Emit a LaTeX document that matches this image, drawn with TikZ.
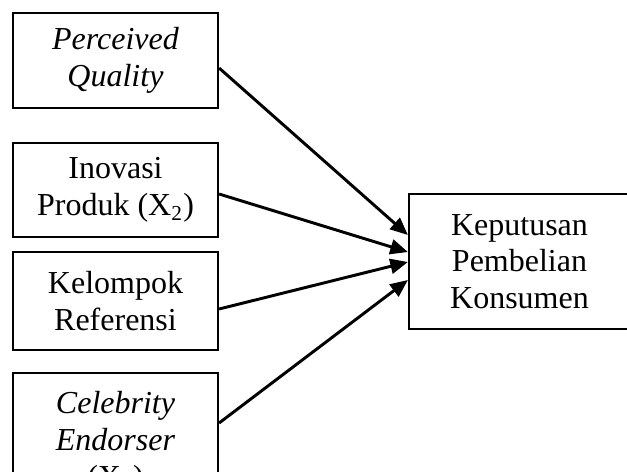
\documentclass[tikz,border=0pt]{standalone}
\usepackage{fontspec}
\setmainfont{Liberation Serif}
\usetikzlibrary{arrows.meta,calc}

\begin{document}
\begin{tikzpicture}[
      x=0.375pt, y=-0.375pt,
      font=\fontsize{12pt}{13.8pt}\selectfont,
      box/.style={draw=black, line width=0.8pt, align=center, inner sep=2pt},
      varbox/.style={box, minimum width=76.9pt},
      goalbox/.style={box, minimum width=82.9pt, minimum height=50.6pt},
      panah/.style={-{Triangle[length=6.6pt,width=5.6pt]}, line width=1.1pt}
    ]
      % Frame of the picture (627 x 471, cut at bottom and right)
      \clip (0,0) rectangle (627,471);

      % Independent variables on the left
      \node[varbox, minimum height=35.6pt]
        (PQ)
        at
        (115.5,60.5)
        {\textit{Perceived} \\ \textit{Quality}};

      \node[varbox, minimum height=35.25pt]
        (IP)
        at
        (115.5,190)
        {Inovasi \\ Produk (X\textsubscript{2})};

      \node[varbox, minimum height=36.75pt]
        (KR)
        at
        (115.5,301)
        {Kelompok \\ Referensi};

      % this one runs past the lower edge
      \node[varbox, minimum height=52.5pt]
        (CE)
        at
        (115.5,443)
        {\textit{Celebrity} \\ \textit{Endorser} \\ (X\textsubscript{4})};

      % Dependent variable on the right
      \node[goalbox]
        (KPK)
        at
        (519.5,261.5)
        {Keputusan \\ Pembelian \\ Konsumen};

      % Arrows into the dependent variable
      \draw[panah] ($(PQ.east)+(0,7.5)$) -- ($(KPK.west)+(0,-26.5)$);
      \draw[panah] ($(IP.east)+(0,4)$) -- ($(KPK.west)+(0,-9.5)$);
      \draw[panah] ($(KR.east)+(0,8)$) -- ($(KPK.west)+(0,0.5)$);
      \draw[panah] ($(CE.east)+(0,-20)$) -- ($(KPK.west)+(0,18.5)$);
    \end{tikzpicture}
\end{document}
